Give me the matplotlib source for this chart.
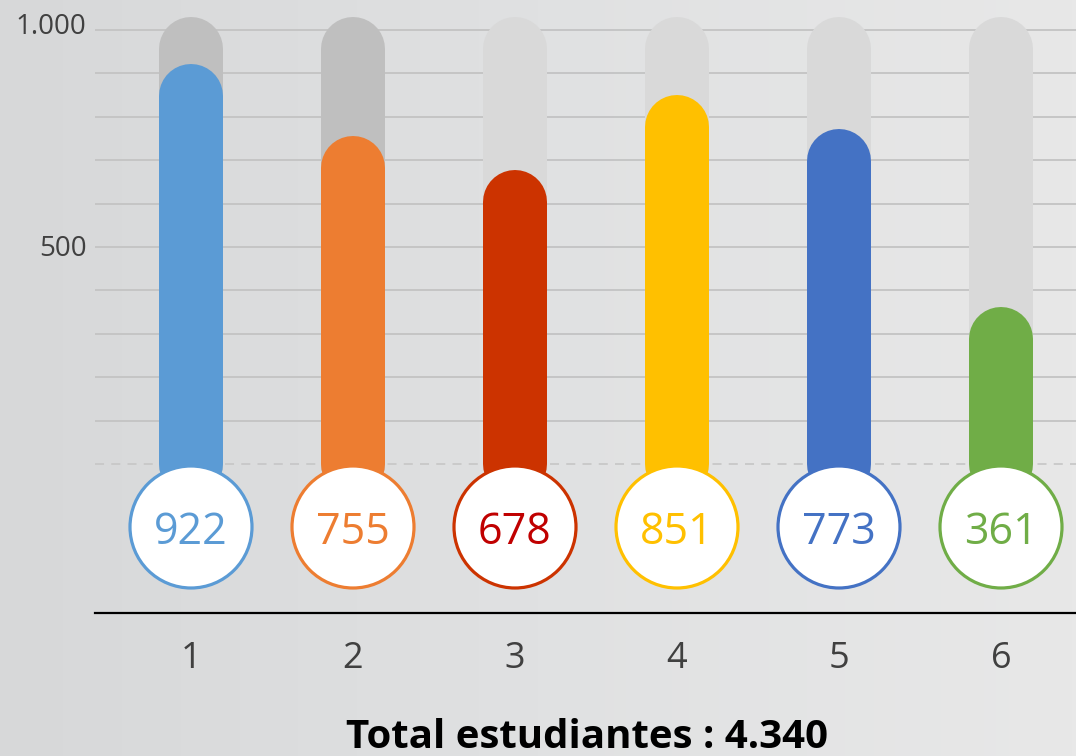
import numpy as np
import matplotlib
matplotlib.use("Agg")
import matplotlib.pyplot as plt
import matplotlib.transforms as mtransforms
from matplotlib.colors import LinearSegmentedColormap

# ---- data ----
categories = ["1", "2", "3", "4", "5", "6"]
values = [922, 755, 678, 851, 773, 361]
max_value = 1000
bar_colors = ["#5B9BD5", "#ED7D31", "#CC3300", "#FFC000", "#4472C4", "#70AD47"]
text_colors = ["#5B9BD5", "#ED7D31", "#C00000", "#FFC000", "#4472C4", "#70AD47"]
track_colors = ["#BFBFBF", "#BFBFBF", "#D9D9D9", "#D9D9D9", "#D9D9D9", "#D9D9D9"]
ytick_values = [500, 1000]
ytick_labels = ["500", "1.000"]
title = "Total estudiantes : 4.340"

plt.rcParams['font.family'] = ['Open Sans', 'DejaVu Sans']

W, H, DPI = 1076, 756, 100
fig = plt.figure(figsize=(W / DPI, H / DPI), dpi=DPI)
fig.patch.set_facecolor("#e2e3e4")

# background gradient
bg = fig.add_axes([0, 0, 1, 1], zorder=-10)
gx = np.linspace(0, 1, 256)
grad = np.tile(gx, (2, 1))
cmap = LinearSegmentedColormap.from_list("bg", ["#d7d8d9", "#e0e1e2", "#e8e8e8"])
bg.imshow(grad, aspect="auto", cmap=cmap, extent=[0, 1, 0, 1])
bg.set_axis_off()

# axes in pixel layout
px_per_unit = 0.434
zero_px = 464
ax_bottom_px = 613
ymin = -(ax_bottom_px - zero_px) / px_per_unit
ymax = zero_px / px_per_unit
left_px = 95
ax = fig.add_axes([left_px / W, (H - ax_bottom_px) / H, 1 - left_px / W, ax_bottom_px / H])
ax.set_facecolor("none")
ax.set_ylim(ymin, ymax)
x = np.arange(1, len(values) + 1)
spacing_px = 162
ax.set_xlim(1 - (191 - left_px) / spacing_px, 1 + (W - 191) / spacing_px)

# gridlines
for g in range(100, max_value + 1, 100):
    ax.axhline(g, color="#c3c3c3", lw=1.3, zorder=1)
ax.axhline(0, color="#c8c8c8", lw=1.3, ls=(0, (5, 4)), zorder=1)

bar_px = 64
lw_pt = bar_px * 72 / DPI
cap_units = (bar_px / 2) / px_per_unit
track_top = max_value + 13 / px_per_unit

for xi, v, c, tc in zip(x, values, bar_colors, track_colors):
    ax.plot([xi, xi], [0, track_top - cap_units], color=tc, lw=lw_pt,
            solid_capstyle="round", zorder=2)
    ax.plot([xi, xi], [0, v - cap_units], color=c, lw=lw_pt,
            solid_capstyle="round", zorder=3)

# circles with values
circ_y = -(527 - zero_px) / px_per_unit
diam_pt = 122 * 72 / DPI
ax.scatter(x, [circ_y] * len(x), s=diam_pt ** 2, facecolor="white",
           edgecolor=bar_colors, linewidth=2.3, zorder=5, clip_on=False)
text_shift = mtransforms.ScaledTranslation(0, -4 / 72, fig.dpi_scale_trans)
for xi, v, c in zip(x, values, text_colors):
    ax.text(xi, circ_y, f"{v}", ha="center", va="center", fontsize=31,
            color=c, zorder=6, transform=ax.transData + text_shift)

# axes styling
for s in ["top", "right", "left"]:
    ax.spines[s].set_visible(False)
ax.spines["bottom"].set_color("black")
ax.spines["bottom"].set_linewidth(1.6)
ax.set_xticks(x)
ax.set_xticklabels(categories, fontsize=26, color="#404040")
ax.tick_params(axis="x", length=0, pad=20)
ax.set_yticks(ytick_values)
ax.set_yticklabels(ytick_labels, fontsize=20, color="#404040")
ax.tick_params(axis="y", length=0, pad=6)
labels = ax.get_yticklabels()
offsets = [1, 5]
for lbl, off in zip(labels, offsets):
    lbl.set_transform(lbl.get_transform() + mtransforms.ScaledTranslation(0, off / 72, fig.dpi_scale_trans))

fig.text(587 / W, 1 - 738 / H, title, ha="center", va="center",
         fontsize=29, fontweight="bold", color="black")

fig.savefig("out.png", dpi=DPI, facecolor=fig.get_facecolor())
